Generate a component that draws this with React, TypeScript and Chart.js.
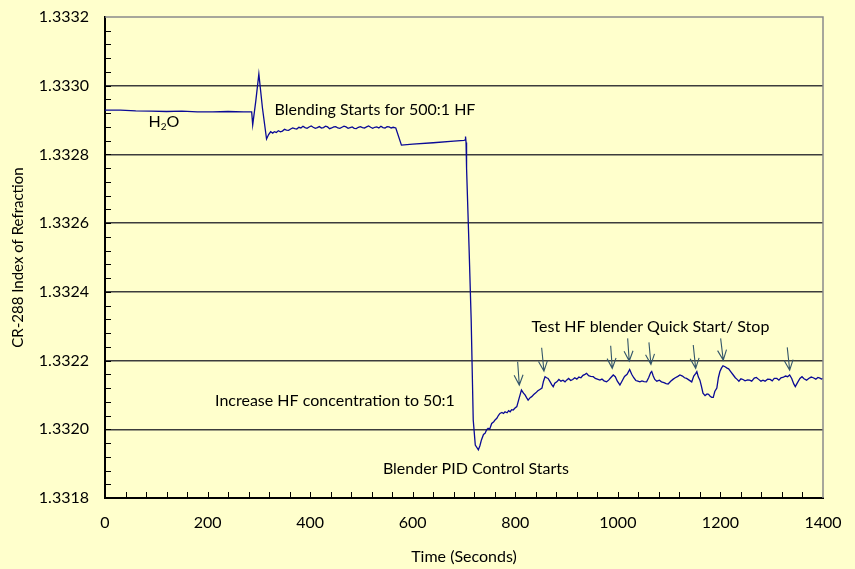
import { useEffect, useRef } from 'react';
import { Chart, registerables } from 'chart.js';
Chart.register(...registerables);

// ---- data (time in seconds, refractive index) ----
const TIME = [
  0, 30, 60, 90, 120, 150, 180, 210, 240, 270, 286, 288, 294, 300, 307, 315, 319, 323, 327,
  330, 334, 338, 342, 346, 350, 354, 358, 362, 366, 370, 374, 378, 382, 386, 390, 394, 398, 402, 406,
  410, 414, 418, 422, 426, 430, 434, 438, 442, 446, 450, 454, 458, 462, 466, 470, 474, 478,
  482, 486, 490, 494, 498, 502, 506, 510, 514, 518, 522, 526, 530, 534, 538, 542, 546, 550, 554, 558,
  562, 567, 578, 600, 640, 680, 700, 702, 703,
  704, 705, 710, 714, 718, 722, 728, 731, 734, 738, 741, 744, 747, 750, 754, 758, 761, 764, 767,
  770, 774, 777, 780, 784, 787, 790, 793, 796, 799, 803, 807, 812, 816, 819, 822, 825, 829, 832,
  836, 840, 844, 848, 852, 855, 858, 861, 864, 868, 871, 874, 877, 881, 885, 889, 893, 897, 900,
  904, 908, 912, 916, 920, 924, 928, 932, 936, 939, 943, 947, 952, 956, 960, 965, 969, 973, 978,
  982, 986, 991, 995, 999, 1004, 1008, 1013, 1018, 1023, 1027, 1031, 1035, 1039, 1043, 1047, 1051,
  1056, 1060, 1064, 1066, 1069, 1072, 1076, 1081, 1085, 1090, 1094, 1098, 1103, 1108, 1112, 1117,
  1121, 1126, 1130, 1134, 1139, 1144, 1148, 1152, 1154, 1157, 1160, 1163, 1166, 1170, 1174, 1177,
  1180, 1183, 1186, 1189, 1193, 1196, 1199, 1202, 1205, 1209, 1213, 1216, 1220, 1225, 1229, 1232,
  1236, 1240, 1244, 1248, 1253, 1257, 1261, 1266, 1270, 1274, 1279, 1283, 1287, 1292, 1297, 1301,
  1305, 1310, 1314, 1318, 1323, 1327, 1331, 1335, 1339, 1343, 1346, 1350, 1355, 1359, 1363, 1368,
  1372, 1377, 1381, 1386, 1390, 1394, 1397, 1400,
];
const RI = [
  1.332929, 1.332929, 1.332927, 1.332926, 1.332925, 1.332926, 1.332924, 1.332924, 1.332925, 1.332924,
  1.332924, 1.332886, 1.332955, 1.333034, 1.332935, 1.332845, 1.332858, 1.332866, 1.332862,
  1.332866, 1.332864, 1.332869, 1.332866, 1.332868, 1.332873, 1.332871, 1.332870, 1.332874, 1.332877,
  1.332875, 1.332874, 1.332879, 1.332877, 1.332882, 1.332878, 1.332876, 1.332880, 1.332883, 1.332879,
  1.332876, 1.332878, 1.332881, 1.332877, 1.332878, 1.332882, 1.332880, 1.332875, 1.332877, 1.332880,
  1.332881, 1.332877, 1.332876, 1.332879, 1.332882, 1.332880, 1.332876, 1.332878, 1.332880, 1.332876,
  1.332875, 1.332879, 1.332881, 1.332878, 1.332877, 1.332880, 1.332883, 1.332879, 1.332876, 1.332879,
  1.332880, 1.332877, 1.332882, 1.332878, 1.332877, 1.332881, 1.332880, 1.332877, 1.332879, 1.332877,
  1.332827, 1.33283, 1.332834, 1.332839, 1.332841, 1.332842, 1.332852, 1.332835,
  1.33276, 1.332522, 1.332318, 1.332027, 1.331954, 1.33194, 1.331952, 1.331969, 1.331985, 1.331988,
  1.331998, 1.332003, 1.332, 1.332017, 1.332022, 1.332028, 1.332032, 1.33204, 1.332046, 1.332049,
  1.332046, 1.332051, 1.332048, 1.332054, 1.332051, 1.332057, 1.332056, 1.332061, 1.332066, 1.332088,
  1.332114, 1.332105, 1.3321, 1.332092, 1.332085, 1.332092, 1.332095, 1.332101, 1.332106, 1.332112,
  1.332116, 1.33212, 1.33214, 1.332153, 1.33215, 1.332148, 1.332138, 1.33213, 1.332124, 1.332134,
  1.332138, 1.332145, 1.33214, 1.332143, 1.332138, 1.332143, 1.332148, 1.332142, 1.332145, 1.33215,
  1.332146, 1.332152, 1.33215, 1.332157, 1.33216, 1.332163, 1.332156, 1.332154, 1.332153, 1.332148,
  1.332146, 1.332143, 1.332146, 1.332141, 1.332138, 1.332143, 1.33215, 1.332158, 1.332153, 1.33214,
  1.332129, 1.33214, 1.332154, 1.33216, 1.332174, 1.33216, 1.33215, 1.332142, 1.33214, 1.332138,
  1.332141, 1.332139, 1.332138, 1.33215, 1.332165, 1.332168, 1.332155, 1.332145, 1.33214, 1.332143,
  1.332138, 1.332136, 1.332133, 1.332132, 1.33214, 1.332146, 1.33215, 1.332154, 1.332158, 1.332155,
  1.33215, 1.332148, 1.332143, 1.332138, 1.332155, 1.332163, 1.332168, 1.332152, 1.332143, 1.332125,
  1.332105, 1.332098, 1.332103, 1.332102, 1.332096, 1.332093, 1.332093, 1.33211, 1.33212, 1.33215,
  1.332168, 1.332178, 1.332185, 1.332182, 1.332178, 1.332176, 1.332168, 1.332158, 1.33215, 1.332146,
  1.33214, 1.332147, 1.332145, 1.332141, 1.332144, 1.332143, 1.33214, 1.332149, 1.332151, 1.332146,
  1.33214, 1.332143, 1.33214, 1.332146, 1.332145, 1.332141, 1.332148, 1.332148, 1.332143, 1.33215,
  1.332152, 1.332155, 1.332153, 1.332158, 1.332148, 1.332132, 1.332124, 1.332135, 1.332148, 1.332153,
  1.332147, 1.332143, 1.332148, 1.332152, 1.33215, 1.332146, 1.332151, 1.332149, 1.332146, 1.332148,
];

const X_TICKS = [0, 200, 400, 600, 800, 1000, 1200, 1400];
const Y_TICKS = [1.3318, 1.332, 1.3322, 1.3324, 1.3326, 1.3328, 1.333, 1.3332];
const X_MINOR_STEP = 40;
const Y_MINOR_STEP = 0.00004;

// arrows: start (tail) and end (tip) in data units
const ARROW_T0 = [804.6, 851.4, 986.0, 1019.1, 1060.6, 1147.0, 1200.4, 1330.3];
const ARROW_V0 = [1.3321966, 1.3322373, 1.3322432, 1.3322647, 1.332253, 1.3322452, 1.3322647, 1.3322385];
const ARROW_T1 = [807.8, 855.9, 989.1, 1022.2, 1064.5, 1151.7, 1205.5, 1335.0];
const ARROW_V1 = [1.3321288, 1.3321695, 1.3321774, 1.3321986, 1.332189, 1.3321774, 1.3322015, 1.3321724];

// text notes centred at (time, value)
const NOTE_TEXT = [
  'H₂O',
  'Blending Starts for 500:1 HF',
  'Test HF blender Quick Start/ Stop',
  'Increase HF concentration to 50:1',
  'Blender PID Control Starts',
];
const NOTE_T = [115, 526.4, 1063.6, 448.4, 723.3];
const NOTE_V = [1.332894, 1.332929, 1.332298, 1.332082, 1.331884];

const FONT_FAMILY = 'Lato, "Open Sans", sans-serif';
const FONT_SIZE = 16;

const overlay = {
  id: 'overlay',
  afterDatasetsDraw(chart: any) {
    const { ctx, chartArea: a, scales } = chart;
    const x = scales.x;
    const y = scales.y;
    ctx.save();
    // top and right frame
    ctx.strokeStyle = '#8a8a8a';
    ctx.lineWidth = 1.5;
    ctx.beginPath();
    ctx.moveTo(a.left, a.top);
    ctx.lineTo(a.right, a.top);
    ctx.lineTo(a.right, a.bottom);
    ctx.stroke();

    // minor ticks
    ctx.strokeStyle = '#000';
    ctx.lineWidth = 1;
    ctx.beginPath();
    const xMin = X_TICKS[0];
    const xMax = X_TICKS[X_TICKS.length - 1];
    const nx = Math.round((xMax - xMin) / X_MINOR_STEP);
    for (let i = 1; i < nx; i++) {
      const px = Math.round(x.getPixelForValue(xMin + i * X_MINOR_STEP)) + 0.5;
      ctx.moveTo(px, a.bottom);
      ctx.lineTo(px, a.bottom - 6);
    }
    const yMin = Y_TICKS[0];
    const yMax = Y_TICKS[Y_TICKS.length - 1];
    const ny = Math.round((yMax - yMin) / Y_MINOR_STEP);
    for (let i = 1; i < ny; i++) {
      const py = Math.round(y.getPixelForValue(yMin + i * Y_MINOR_STEP)) + 0.5;
      ctx.moveTo(a.left, py);
      ctx.lineTo(a.left + 6, py);
    }
    ctx.stroke();

    // arrows
    ctx.strokeStyle = '#34566a';
    ctx.lineWidth = 1.1;
    for (let i = 0; i < ARROW_T0.length; i++) {
      const x0 = x.getPixelForValue(ARROW_T0[i]);
      const y0 = y.getPixelForValue(ARROW_V0[i]);
      const x1 = x.getPixelForValue(ARROW_T1[i]);
      const y1 = y.getPixelForValue(ARROW_V1[i]);
      const ang = Math.atan2(y1 - y0, x1 - x0);
      const len = 11;
      const spread = 0.42;
      ctx.beginPath();
      ctx.moveTo(x0, y0);
      ctx.lineTo(x1, y1);
      ctx.moveTo(x1 - len * Math.cos(ang - spread), y1 - len * Math.sin(ang - spread));
      ctx.lineTo(x1, y1);
      ctx.lineTo(x1 - len * Math.cos(ang + spread), y1 - len * Math.sin(ang + spread));
      ctx.stroke();
    }

    // notes
    ctx.fillStyle = '#000';
    ctx.textBaseline = 'middle';
    const big = `${FONT_SIZE}px ${FONT_FAMILY}`;
    const small = `${Math.round(FONT_SIZE * 0.65)}px ${FONT_FAMILY}`;
    for (let i = 0; i < NOTE_TEXT.length; i++) {
      const cx = x.getPixelForValue(NOTE_T[i]);
      const cy = y.getPixelForValue(NOTE_V[i]);
      const text = NOTE_TEXT[i];
      const runs: { s: string; sub: boolean }[] = [];
      for (const ch of text) {
        const code = ch.charCodeAt(0);
        const sub = code >= 0x2080 && code <= 0x2089;
        const c = sub ? String.fromCharCode(code - 0x2080 + 48) : ch;
        if (runs.length && runs[runs.length - 1].sub === sub) runs[runs.length - 1].s += c;
        else runs.push({ s: c, sub });
      }
      let total = 0;
      for (const r of runs) {
        ctx.font = r.sub ? small : big;
        total += ctx.measureText(r.s).width;
      }
      let px = cx - total / 2;
      ctx.textAlign = 'left';
      for (const r of runs) {
        ctx.font = r.sub ? small : big;
        ctx.fillText(r.s, px, r.sub ? cy + 5 : cy);
        px += ctx.measureText(r.s).width;
      }
    }
    ctx.restore();
  },
};

export default function App() {
  const ref = useRef<HTMLCanvasElement | null>(null);
  useEffect(() => {
    if (!ref.current) return;
    const points = TIME.map((t, i) => ({ x: t, y: RI[i] }));
    const font = { family: FONT_FAMILY, size: FONT_SIZE };
    const chart = new Chart(ref.current, {
      type: 'scatter',
      data: {
        datasets: [
          {
            data: points,
            showLine: true,
            borderColor: '#0a0a96',
            borderWidth: 1.3,
            pointRadius: 0,
            tension: 0,
          },
        ],
      },
      options: {
        animation: false,
        responsive: false,
        maintainAspectRatio: false,
        layout: { padding: { top: 17, right: 32, left: 0, bottom: 0 } },
        plugins: { legend: { display: false }, tooltip: { enabled: false } },
        scales: {
          x: {
            type: 'linear',
            min: X_TICKS[0],
            max: X_TICKS[X_TICKS.length - 1],
            afterBuildTicks: (s: any) => {
              s.ticks = X_TICKS.map((v) => ({ value: v }));
            },
            afterFit: (s: any) => {
              s.height = 71;
              s.paddingLeft = 0;
              s.paddingRight = 0;
            },
            ticks: {
              font,
              color: '#000',
              padding: 15,
              maxRotation: 0,
              autoSkip: false,
              callback: (v: any) => String(v),
            },
            grid: { display: false, drawTicks: false },
            border: { display: true, color: '#000', width: 2 },
            title: { display: true, text: 'Time (Seconds)', font, color: '#000', padding: { top: 0, bottom: 3 } },
          },
          y: {
            type: 'linear',
            min: Y_TICKS[0],
            max: Y_TICKS[Y_TICKS.length - 1],
            afterBuildTicks: (s: any) => {
              s.ticks = Y_TICKS.map((v) => ({ value: v }));
            },
            afterFit: (s: any) => {
              s.width = 105;
              s.paddingTop = 0;
              s.paddingBottom = 0;
            },
            ticks: {
              font,
              color: '#000',
              padding: 16,
              autoSkip: false,
              callback: (v: any) => Number(v).toFixed(4),
            },
            grid: {
              drawTicks: false,
              color: (c: any) => (c.tick && Math.abs(c.tick.value - Y_TICKS[Y_TICKS.length - 1]) < 1e-9 ? 'rgba(0,0,0,0)' : '#3c3c3c'),
              lineWidth: 1.4,
            },
            border: { display: true, color: '#000', width: 2 },
            title: { display: true, text: 'CR-288 Index of Refraction', font: { family: FONT_FAMILY, size: 15 }, color: '#000', padding: { top: 9, bottom: 0 } },
          },
        },
      },
      plugins: [overlay],
    } as any);
    return () => chart.destroy();
  }, []);
  return (
    <div style={{ position: 'fixed', left: 0, top: 0, width: 855, height: 569, background: '#FFFFCC' }}>
      <canvas ref={ref} width={855} height={569} style={{ display: 'block' }} />
    </div>
  );
}
